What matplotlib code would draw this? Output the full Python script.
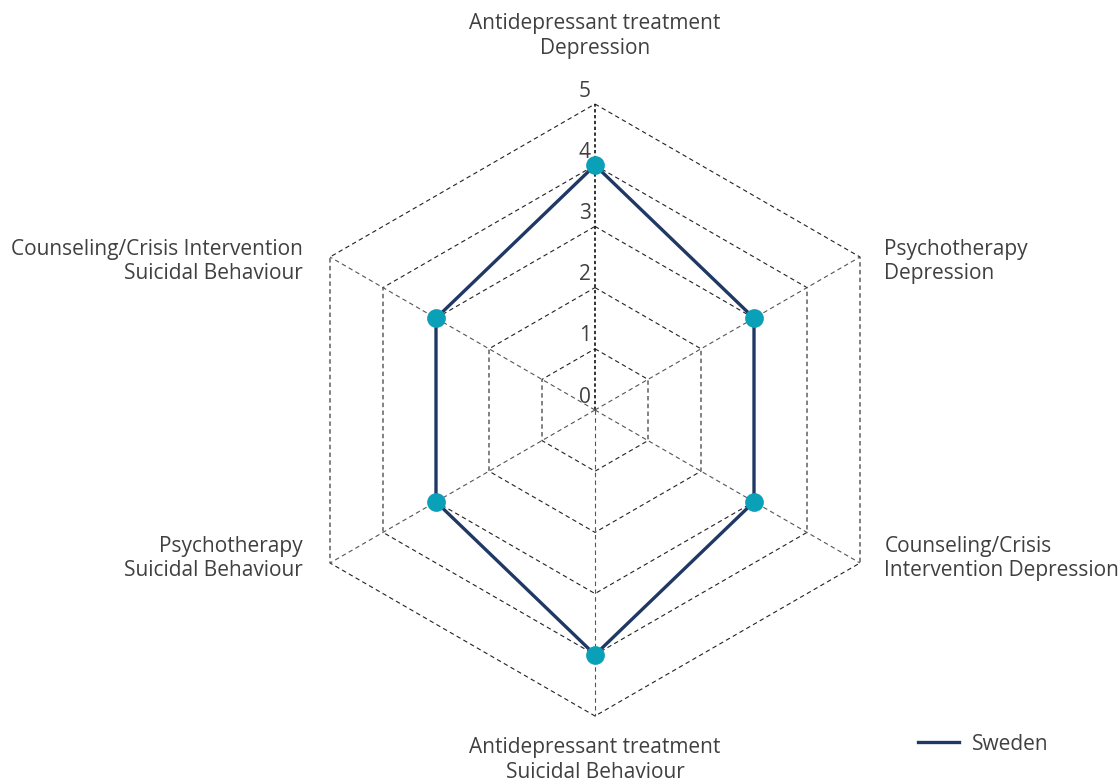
import numpy as np
import matplotlib.pyplot as plt

plt.rcParams['font.family'] = ['Open Sans', 'DejaVu Sans']

categories = ["Antidepressant treatment\nDepression",
              "Psychotherapy\nDepression",
              "Counseling/Crisis\nIntervention Depression",
              "Antidepressant treatment\nSuicidal Behaviour",
              "Psychotherapy\nSuicidal Behaviour",
              "Counseling/Crisis Intervention\nSuicidal Behaviour"]
sweden = [4, 3, 3, 4, 3, 3]
levels = [0, 1, 2, 3, 4, 5]

text_col = '#404040'
line_col = '#1f3864'
dot_col = '#0aa0b7'

n = len(categories)
ang = np.pi / 2 - np.arange(n) * 2 * np.pi / n  # clockwise from top

fig = plt.figure(figsize=(11.2, 7.82), dpi=100)
ax = fig.add_axes([0, 0, 1, 1])
ppu = 61.2  # pixels per unit
ax.set_xlim(-595 / ppu, (1120 - 595) / ppu)
ax.set_ylim(-372 / ppu, 410 / ppu)
ax.set_aspect('equal')
ax.axis('off')

# grid rings
for r in levels[1:]:
    xs = r * np.cos(np.append(ang, ang[0]))
    ys = r * np.sin(np.append(ang, ang[0]))
    ax.plot(xs, ys, color='#222222', lw=0.8, ls=(0, (4, 3)), zorder=1)

# spokes
rmax = levels[-1]
for i, a in enumerate(ang):
    if i == 0:
        ax.plot([0, 0], [0, rmax], color='#111111', lw=1.2, ls=(0, (2, 1.5)), zorder=1)
    else:
        ax.plot([0, rmax * np.cos(a)], [0, rmax * np.sin(a)], color='#555555',
                lw=0.8, ls=(0, (4, 3)), zorder=1)

# scale labels
for r in levels:
    ax.text(-0.07, r + 0.04, str(r), ha='right', va='bottom', fontsize=15, color=text_col)

# data
vals = np.array(sweden + sweden[:1], dtype=float)
aa = np.append(ang, ang[0])
ax.plot(vals * np.cos(aa), vals * np.sin(aa), color=line_col, lw=2.4, zorder=3, label='Sweden')
ax.plot(vals[:-1] * np.cos(ang), vals[:-1] * np.sin(ang), 'o', color=dot_col, ms=13.5,
        zorder=4, mec='none')

# category labels
for i, (c, a) in enumerate(zip(categories, ang)):
    x = np.cos(a)
    y = np.sin(a)
    if abs(x) < 1e-6:
        ha = 'center'
        tx = 0
        ty = 6.11 if y > 0 else -5.72
    else:
        ha = 'left' if x > 0 else 'right'
        tx = rmax * x + (0.4 if x > 0 else -0.45)
        ty = rmax * y + (-0.08 if y > 0 else 0.07)
    ax.text(tx, ty, c, ha=ha, va='center', multialignment=ha,
            fontsize=15, color=text_col, linespacing=1.2)

leg = ax.legend(loc='lower right', bbox_to_anchor=(0.953, 0.011), frameon=False,
                fontsize=15, handlelength=2.0, handletextpad=0.6, labelcolor=text_col)

fig.savefig('out.png', dpi=100)
